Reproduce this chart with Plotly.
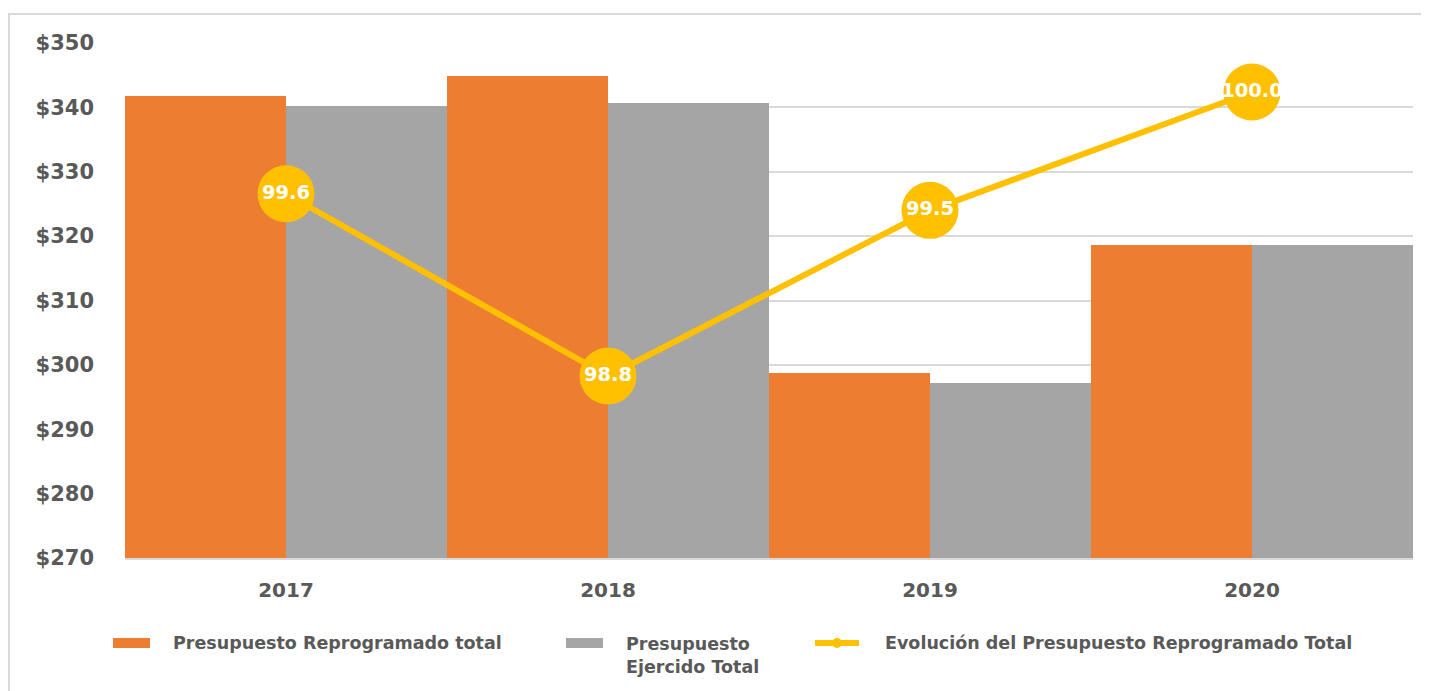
import plotly.graph_objects as go

years = ["2017", "2018", "2019", "2020"]
reprogramado = [341.7, 344.9, 298.7, 318.6]
ejercido = [340.2, 340.7, 297.2, 318.6]
evolucion = [99.57, 98.8, 99.5, 100.0]
y_ticks = [270, 280, 290, 300, 310, 320, 330, 340, 350]
y_tick_text = ["$" + str(v) for v in y_ticks]

ORANGE = "#ED7D31"
GRAY = "#A5A5A5"
YELLOW = "#FFC000"
TXT = "#595959"
FONT = "DejaVu Sans"

OFF = 8  # page body margin
W, H = 1429 - OFF, 691 - OFF
L, T = 125 - OFF, 43 - OFF
R = W - (1413 - OFF)
B = H - (558 - OFF)
pw, ph = W - L - R, H - T - B

def px(x):
    return (x - OFF - L) / pw

def py(y):
    return (H - B - (y - OFF)) / ph

fig = go.Figure()
fig.add_trace(go.Bar(x=years, y=reprogramado, marker_color=ORANGE,
                     marker_line_width=0, name="Presupuesto Reprogramado total",
                     showlegend=False))
fig.add_trace(go.Bar(x=years, y=ejercido, marker_color=GRAY,
                     marker_line_width=0, name="Presupuesto Ejercido Total",
                     showlegend=False))
fig.add_trace(go.Scatter(x=years, y=evolucion, yaxis="y2", mode="lines+markers+text",
                         line=dict(color=YELLOW, width=6),
                         marker=dict(color=YELLOW, size=57),
                         texttemplate="%{y:.1f}", textposition="middle center",
                         textfont=dict(color="white", size=19.5, family=FONT, weight="bold"),
                         name="Evolución del Presupuesto Reprogramado Total",
                         showlegend=False, cliponaxis=False))

fig.update_layout(
    width=W, height=H,
    margin=dict(l=L, r=R, t=T, b=B, pad=0),
    paper_bgcolor="white", plot_bgcolor="white",
    barmode="group", bargap=0, bargroupgap=0,
    font=dict(family=FONT, color=TXT),
    xaxis=dict(showgrid=False, showline=True, linecolor="#d9d9d9", linewidth=2,
               ticks="", ticklabelstandoff=13,
               tickfont=dict(size=20, color=TXT, family=FONT, weight="bold")),
    yaxis=dict(range=[270, 350], tickvals=y_ticks, ticktext=y_tick_text,
               showgrid=True, gridcolor="#d9d9d9", gridwidth=2,
               zeroline=False, showline=False, ticks="", ticklabelstandoff=30,
               tickfont=dict(size=21, color=TXT, family=FONT, weight="bold")),
    yaxis2=dict(overlaying="y", side="right", range=[98.031, 100.207], visible=False),
)

# outer border
fig.add_shape(type="rect", xref="paper", yref="paper",
              x0=px(9), x1=px(1445), y0=py(14), y1=py(710),
              line=dict(color="#d9d9d9", width=2), fillcolor="rgba(0,0,0,0)", layer="below")

# legend
leg_y = py(643)
fig.add_shape(type="rect", xref="paper", yref="paper", x0=px(113), x1=px(150),
              y0=py(648), y1=py(638), fillcolor=ORANGE, line_width=0)
fig.add_shape(type="rect", xref="paper", yref="paper", x0=px(566), x1=px(603),
              y0=py(648), y1=py(638), fillcolor=GRAY, line_width=0)
fig.add_shape(type="line", xref="paper", yref="paper", x0=px(815), x1=px(859),
              y0=leg_y, y1=leg_y, line=dict(color=YELLOW, width=6))
fig.add_shape(type="circle", xref="paper", yref="paper", x0=px(832), x1=px(842),
              y0=py(648), y1=py(638), fillcolor=YELLOW, line_width=0)

leg_font = dict(size=17.5, color=TXT, family=FONT, weight="bold")
fig.add_annotation(xref="paper", yref="paper", x=px(171), y=leg_y, xanchor="left",
                   yanchor="middle", text="Presupuesto Reprogramado total",
                   showarrow=False, font=leg_font)
fig.add_annotation(xref="paper", yref="paper", x=px(624), y=py(632), xanchor="left",
                   yanchor="top", text="Presupuesto<br>Ejercido Total", align="left",
                   showarrow=False, font=leg_font)
fig.add_annotation(xref="paper", yref="paper", x=px(883), y=leg_y, xanchor="left",
                   yanchor="middle", text="Evolución del Presupuesto Reprogramado Total",
                   showarrow=False, font=leg_font)

fig.write_html("out.html")
